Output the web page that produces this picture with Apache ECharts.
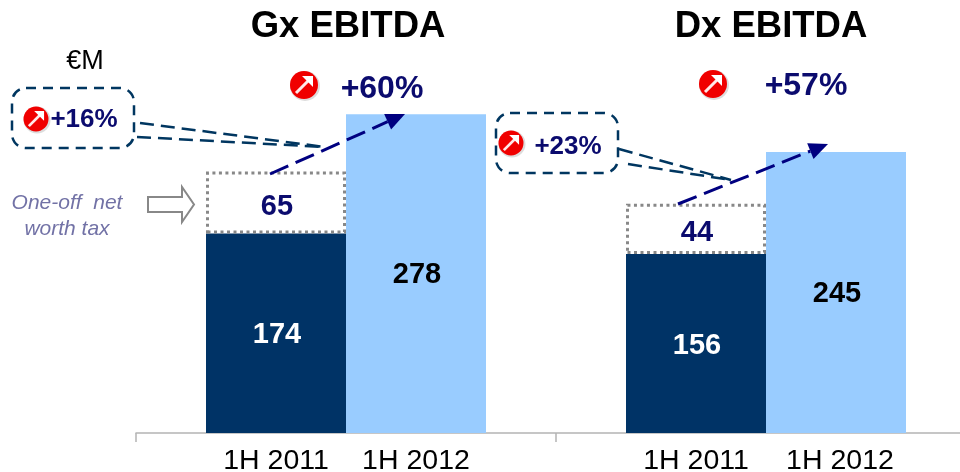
<!DOCTYPE html>
<html>
<head>
<meta charset="utf-8">
<style>
  html, body { margin: 0; padding: 0; background: #fff; }
  #chart { width: 960px; height: 472px; }
</style>
<script src="https://cdn.jsdelivr.net/npm/echarts@6/dist/echarts.min.js"></script>
</head>
<body>
<div id="chart"></div>
<script>
var groups = ['Gx EBITDA', 'Dx EBITDA'];
var base2011 = [174, 156];
// the 65 box is drawn shorter than its label in the reference, so height and label are separate
var oneOffHeight = [54, 44];
var oneOffLabels = ['65', '44'];
var first2012 = [278, 245];
var periodLabels = ['', '', '1H 2011', '', '1H 2012', '', '', '', '1H 2011', '', '1H 2012', '', ''];

var FONT = '"Liberation Sans", Arial, sans-serif';
var NAVY = '#0b0b6e';
var DASH = '#003660';

function text(x, baseline, str, size, color, opts) {
  opts = opts || {};
  return {
    type: 'text',
    z: 110,
    style: {
      x: x,
      y: baseline - size * 0.3,
      text: str,
      fill: color,
      align: 'center',
      verticalAlign: 'middle',
      font: (opts.italic ? 'italic ' : '') + (opts.bold ? 'bold ' : '') + size + 'px ' + FONT
    }
  };
}

function dashed(x1, y1, x2, y2, color, width, dash) {
  return {
    type: 'line',
    z: 105,
    shape: { x1: x1, y1: y1, x2: x2, y2: y2 },
    style: { stroke: color, lineWidth: width, lineDash: dash }
  };
}

function trendArrow(x1, y1, x2, y2) {
  var a = Math.atan2(y2 - y1, x2 - x1);
  var len = 19, half = 8.5;
  var bx = x2 - len * Math.cos(a), by = y2 - len * Math.sin(a);
  return [
    dashed(x1, y1, bx, by, '#000080', 3, [20, 8]),
    {
      type: 'polygon',
      z: 106,
      shape: { points: [
        [x2, y2],
        [bx + half * Math.sin(a), by - half * Math.cos(a)],
        [bx - half * Math.sin(a), by + half * Math.cos(a)]
      ] },
      style: { fill: '#000080' }
    }
  ];
}

function upIcon(cx, cy, r) {
  var k = r / 14;
  return [
    { type: 'circle', z: 107, shape: { cx: cx + 1, cy: cy + 1, r: r + 1 }, style: { fill: '#dddddd' } },
    { type: 'circle', z: 108, shape: { cx: cx, cy: cy, r: r }, style: { fill: '#f00000' } },
    {
      type: 'line', z: 109,
      shape: { x1: cx - 8 * k, y1: cy + 8 * k, x2: cx + 5 * k, y2: cy - 5 * k },
      style: { stroke: '#ffe8e8', lineWidth: 3 * k }
    },
    {
      type: 'polygon', z: 109,
      shape: { points: [[cx - 2 * k, cy - 9 * k], [cx + 9 * k, cy - 9 * k], [cx + 9 * k, cy + 2 * k]] },
      style: { fill: '#fff' }
    }
  ];
}

function callout(x, y, w, h) {
  return {
    type: 'rect',
    z: 104,
    shape: { x: x, y: y, width: w, height: h, r: 14 },
    style: { fill: 'none', stroke: DASH, lineWidth: 2.5, lineDash: [10, 7] }
  };
}

var marks = [
  text(348, 38, groups[0], 36.5, '#000', { bold: true }),
  text(771, 38, groups[1], 36.5, '#000', { bold: true }),
  text(85, 70, '€M', 27, '#000'),
  text(382, 98.5, '+60%', 32, NAVY, { bold: true }),
  text(806, 95.5, '+57%', 32, NAVY, { bold: true }),
  text(84, 128, '+16%', 26, NAVY, { bold: true }),
  text(568, 155, '+23%', 26, NAVY, { bold: true }),
  text(67, 209, 'One-off  net', 21, '#7272a6', { italic: true }),
  text(67, 235, 'worth tax', 21, '#7272a6', { italic: true }),
  callout(12, 88, 122, 60),
  callout(496, 113, 122, 60),
  dashed(140, 123, 325, 147, DASH, 2.5, [14, 7]),
  dashed(137, 137, 325, 147, DASH, 2.5, [14, 7]),
  dashed(619, 149, 731, 180, DASH, 2.5, [14, 7]),
  dashed(628, 164, 731, 180, DASH, 2.5, [14, 7]),
  {
    type: 'polygon',
    z: 105,
    shape: { points: [[148, 197], [182, 197], [182, 187], [194, 204.5], [182, 222], [182, 212], [148, 212]] },
    style: { fill: '#fff', stroke: '#888', lineWidth: 2 }
  }
]
  .concat(trendArrow(270, 174, 405, 114))
  .concat(trendArrow(678, 204, 828, 144))
  .concat(upIcon(304, 85, 14))
  .concat(upIcon(713, 84, 14))
  .concat(upIcon(36, 119, 12.5))
  .concat(upIcon(511, 143, 12.5));

function barLabel(color, dy, formatter) {
  return {
    show: true,
    position: 'inside',
    offset: [1, dy],
    color: color,
    fontFamily: FONT,
    fontWeight: 'bold',
    fontSize: 29,
    formatter: formatter || '{c}'
  };
}

var chart = echarts.init(document.getElementById('chart'));
chart.setOption({
  animation: false,
  backgroundColor: '#fff',
  grid: { left: 136, top: 89, width: 840, height: 344, outerBoundsMode: 'none' },
  xAxis: [
    {
      type: 'category',
      data: groups,
      axisLine: { lineStyle: { color: '#b4b4b4', width: 1.5 } },
      axisTick: { show: true, length: 9, alignWithLabel: false, lineStyle: { color: '#b4b4b4', width: 1.5 } },
      axisLabel: { show: false }
    },
    {
      type: 'category',
      position: 'bottom',
      boundaryGap: false,
      data: periodLabels,
      axisLine: { show: false },
      axisTick: { show: false },
      axisLabel: {
        interval: 0,
        margin: 14,
        color: '#000',
        fontFamily: FONT,
        fontSize: 28.5,
        hideOverlap: false,
        // last label sits a few px right of its bar in the reference
        formatter: function (v, i) {
          return i === 10 ? '{late|' + v + '}' : v;
        },
        rich: {
          late: { padding: [0, 0, 0, 8], color: '#000', fontFamily: FONT, fontSize: 28.5 }
        }
      }
    }
  ],
  yAxis: { type: 'value', min: 0, max: 300, show: false },
  series: [
    {
      name: '1H 2011',
      type: 'bar',
      stack: 'y2011',
      barWidth: 140,
      barGap: 0,
      data: base2011,
      itemStyle: { color: '#003366' },
      label: barLabel('#fff', 2)
    },
    {
      name: 'One-off net worth tax',
      type: 'bar',
      stack: 'y2011',
      barWidth: 140,
      data: oneOffHeight,
      itemStyle: { color: '#fff', borderColor: '#888', borderWidth: 3, borderType: [3, 3.5] },
      label: barLabel(NAVY, 4.5, function (p) { return oneOffLabels[p.dataIndex]; })
    },
    {
      name: '1H 2012',
      type: 'bar',
      stack: 'y2012',
      barWidth: 140,
      data: first2012,
      itemStyle: { color: '#99ccff' },
      label: barLabel('#000', 1)
    }
  ],
  graphic: marks
});
</script>
</body>
</html>
